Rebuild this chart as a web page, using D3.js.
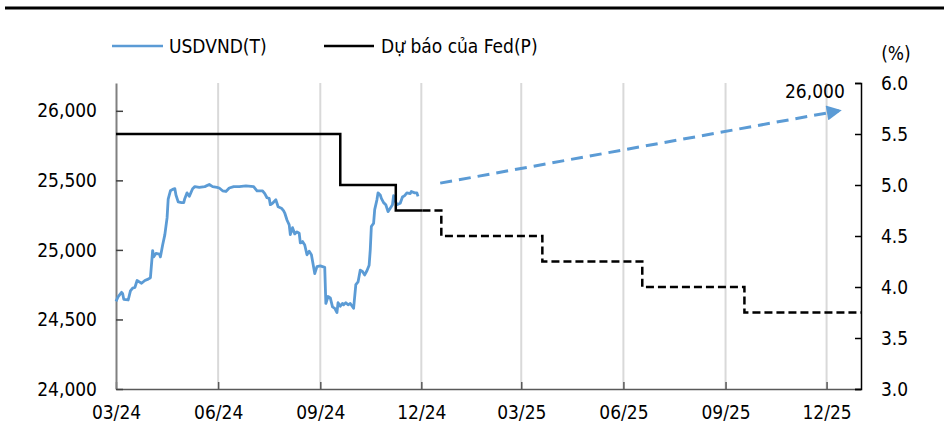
<!DOCTYPE html>
<html>
<head>
<meta charset="utf-8">
<script src="https://cdn.jsdelivr.net/npm/d3@7"></script>
<style>
  html, body { margin: 0; padding: 0; background: #fff; }
  svg text { font-family: "DejaVu Sans Condensed", "DejaVu Sans", sans-serif; font-stretch: condensed; fill: #000; }
</style>
</head>
<body>
<svg id="chart" width="944" height="430"></svg>
<script>
// ---------- DATA ----------
const fxDates = [
  "2024-03-01","2024-03-03","2024-03-06","2024-03-07","2024-03-08","2024-03-12","2024-03-14","2024-03-16",
  "2024-03-18","2024-03-20","2024-03-22","2024-03-24","2024-03-27","2024-03-30","2024-04-01","2024-04-03",
  "2024-04-04","2024-04-06","2024-04-09","2024-04-10","2024-04-12","2024-04-14","2024-04-16","2024-04-17",
  "2024-04-19","2024-04-21","2024-04-23","2024-04-24","2024-04-26","2024-04-29","2024-05-01","2024-05-02",
  "2024-05-04","2024-05-06","2024-05-09","2024-05-11","2024-05-15","2024-05-20","2024-05-24","2024-05-27",
  "2024-05-31","2024-06-02","2024-06-05","2024-06-08","2024-06-11","2024-06-15","2024-06-20","2024-06-26",
  "2024-07-03","2024-07-04","2024-07-06","2024-07-11","2024-07-13","2024-07-15","2024-07-17","2024-07-18",
  "2024-07-20","2024-07-23","2024-07-25","2024-07-28","2024-07-30","2024-07-31","2024-08-02","2024-08-04",
  "2024-08-05","2024-08-07","2024-08-09","2024-08-11","2024-08-13","2024-08-14","2024-08-16","2024-08-18",
  "2024-08-20","2024-08-22","2024-08-24","2024-08-25","2024-08-27","2024-08-29","2024-09-01","2024-09-03",
  "2024-09-05","2024-09-06","2024-09-08","2024-09-10","2024-09-12","2024-09-14","2024-09-16","2024-09-17",
  "2024-09-19","2024-09-21","2024-09-22","2024-09-24","2024-09-26","2024-09-28","2024-10-01","2024-10-03",
  "2024-10-05","2024-10-07","2024-10-09","2024-10-11","2024-10-13","2024-10-15","2024-10-16","2024-10-17",
  "2024-10-19","2024-10-20","2024-10-22","2024-10-23","2024-10-25","2024-10-26","2024-10-28","2024-10-30",
  "2024-11-01","2024-11-03","2024-11-05","2024-11-06","2024-11-08","2024-11-09","2024-11-12","2024-11-14",
  "2024-11-16","2024-11-18","2024-11-21","2024-11-22","2024-11-25","2024-11-27","2024-11-28"
];
const fxValues = [
  24630,24665,24695,24685,24645,24640,24705,24725,
  24730,24780,24770,24760,24780,24790,24800,24995,
  24950,24975,24970,24950,25035,25110,25230,25365,
  25425,25435,25440,25395,25345,25340,25340,25370,
  25410,25385,25440,25455,25450,25455,25470,25455,
  25450,25445,25425,25420,25445,25455,25455,25460,
  25455,25445,25425,25425,25405,25375,25370,25325,
  25335,25360,25310,25300,25280,25265,25215,25180,
  25110,25160,25115,25130,25120,25050,25060,25035,
  24965,24990,24965,24920,24830,24880,24885,24880,
  24875,24615,24665,24655,24590,24580,24550,24620,
  24595,24615,24605,24620,24605,24615,24580,24750,
  24770,24855,24845,24820,24850,24890,25000,25170,
  25190,25290,25360,25410,25395,25370,25340,25325,
  25275,25300,25325,25390,25345,25325,25335,25380,
  25390,25410,25405,25420,25410,25410,25385
];
// Fed funds rate (actual, solid) and projection (dashed)
const fedDates = ["2024-03-01","2024-09-19","2024-11-08","2024-12-02"];
const fedRates = [5.5, 5.0, 4.75, 4.75];
const fcDates  = ["2024-12-02","2024-12-19","2025-03-20","2025-06-18","2025-09-18","2026-01-01"];
const fcRates  = [4.75, 4.5, 4.25, 4.0, 3.75, 3.75];
// USDVND outlook arrow
const arrowDates  = ["2024-12-18","2025-12-12"];
const arrowValues = [25480, 26000];
const arrowLabel  = "26,000";
// axes
const xTickDates  = ["2024-03-01","2024-06-01","2024-09-01","2024-12-01","2025-03-01","2025-06-01","2025-09-01","2025-12-01"];
const xTickLabels = ["03/24","06/24","09/24","12/24","03/25","06/25","09/25","12/25"];
const leftTicks   = [24000, 24500, 25000, 25500, 26000];
const rightTicks  = [3.0, 3.5, 4.0, 4.5, 5.0, 5.5, 6.0];
const seriesNames = ["USDVND(T)", "Dự báo của Fed(P)"];
const rightUnit   = "(%)";

// ---------- DRAW ----------
const parse = d3.timeParse("%Y-%m-%d");
const svg = d3.select("#chart");
const FS = 19;
const blue = "#5B9BD5";

const x = d3.scaleTime().domain([parse("2024-03-01"), parse("2026-01-01")]).range([116, 861]);
const yL = d3.scaleLinear().domain([24000, 26200]).range([389, 83]);
const yR = d3.scaleLinear().domain([3, 6]).range([389, 83]);

// top rule
svg.append("line").attr("x1", 5).attr("x2", 944).attr("y1", 8).attr("y2", 8)
  .attr("stroke", "#000").attr("stroke-width", 3);

// gridlines
svg.append("g").selectAll("line").data(xTickDates.slice(1)).join("line")
  .attr("x1", d => x(parse(d))).attr("x2", d => x(parse(d)))
  .attr("y1", yL.range()[1]).attr("y2", yL.range()[0])
  .attr("stroke", "#d9d9d9").attr("stroke-width", 2);

// x axis
const xAxis = d3.axisBottom(x).tickValues(xTickDates.map(parse))
  .tickFormat((d, i) => xTickLabels[i]).tickSizeInner(-7).tickSizeOuter(0).tickPadding(17);
const gx = svg.append("g").attr("transform", "translate(0,389)").call(xAxis);
gx.select(".domain").attr("stroke", "#595959").attr("stroke-width", 1.5);
gx.selectAll(".tick line").attr("stroke", "#595959").attr("stroke-width", 1.5);
gx.selectAll("text").attr("font-size", FS).attr("font-family", null);

// left axis
const lAxis = d3.axisLeft(yL).tickValues(leftTicks).tickFormat(d3.format(",")).tickSizeInner(-7).tickSizeOuter(0).tickPadding(19);
const gl = svg.append("g").attr("transform", "translate(116,0)").call(lAxis);
gl.select(".domain").attr("stroke", "#808080").attr("stroke-width", 2);
gl.selectAll(".tick line").attr("stroke", "#404040").attr("stroke-width", 1.5);
gl.selectAll("text").attr("font-size", FS).attr("font-family", null);

// right axis
const rAxis = d3.axisRight(yR).tickValues(rightTicks).tickFormat(d3.format(".1f")).tickSizeInner(-6).tickSizeOuter(-6).tickPadding(20);
const gr = svg.append("g").attr("transform", "translate(861,0)").call(rAxis);
gr.select(".domain").attr("stroke", "#000").attr("stroke-width", 1.5);
gr.selectAll(".tick line").attr("stroke", "#000").attr("stroke-width", 1.5);
gr.selectAll("text").attr("font-size", FS).attr("font-family", null);

svg.append("text").attr("x", 896).attr("y", 60).attr("text-anchor", "middle")
  .attr("font-size", FS).text(rightUnit);

// USDVND line
const fx = fxDates.map((d, i) => [parse(d), fxValues[i]]);
svg.append("path").datum(fx)
  .attr("d", d3.line().x(d => x(d[0])).y(d => yL(d[1])))
  .attr("fill", "none").attr("stroke", blue).attr("stroke-width", 2.8).attr("stroke-linejoin", "round");

// Fed solid
const fed = fedDates.map((d, i) => [parse(d), fedRates[i]]);
const stepLine = d3.line().x(d => x(d[0])).y(d => yR(d[1])).curve(d3.curveStepAfter);
svg.append("path").datum(fed).attr("d", stepLine)
  .attr("fill", "none").attr("stroke", "#000").attr("stroke-width", 2.5);

// Fed projection dashed
const fc = fcDates.map((d, i) => [parse(d), fcRates[i]]);
svg.append("path").datum(fc).attr("d", stepLine)
  .attr("fill", "none").attr("stroke", "#000").attr("stroke-width", 2.5).attr("stroke-dasharray", "8,4");

// arrow
const defs = svg.append("defs");
defs.append("marker").attr("id", "arrow").attr("viewBox", "0 0 10 10")
  .attr("refX", 8).attr("refY", 5).attr("markerWidth", 17).attr("markerHeight", 15)
  .attr("markerUnits", "userSpaceOnUse").attr("orient", "auto")
  .append("path").attr("d", "M0,0 L10,5 L0,10 Z").attr("fill", blue);
const ar = arrowDates.map((d, i) => [parse(d), arrowValues[i]]);
svg.append("path").datum(ar)
  .attr("d", d3.line().x(d => x(d[0])).y(d => yL(d[1])))
  .attr("fill", "none").attr("stroke", blue).attr("stroke-width", 3)
  .attr("stroke-dasharray", "12,7").attr("marker-end", "url(#arrow)");
svg.append("text").attr("x", x(ar[1][0]) + 6).attr("y", yL(ar[1][1]) - 13)
  .attr("text-anchor", "end").attr("font-size", FS).text(arrowLabel);

// legend
const leg = svg.append("g");
const legItems = [
  { name: seriesNames[0], color: blue, x1: 112, x2: 163, tx: 169 },
  { name: seriesNames[1], color: "#000", x1: 324, x2: 374, tx: 381 }
];
legItems.forEach(it => {
  leg.append("line").attr("x1", it.x1).attr("x2", it.x2).attr("y1", 46).attr("y2", 46)
    .attr("stroke", it.color).attr("stroke-width", 2.5);
  leg.append("text").attr("x", it.tx).attr("y", 46).attr("dy", "0.35em")
    .attr("font-size", FS).text(it.name);
});
</script>
</body>
</html>
